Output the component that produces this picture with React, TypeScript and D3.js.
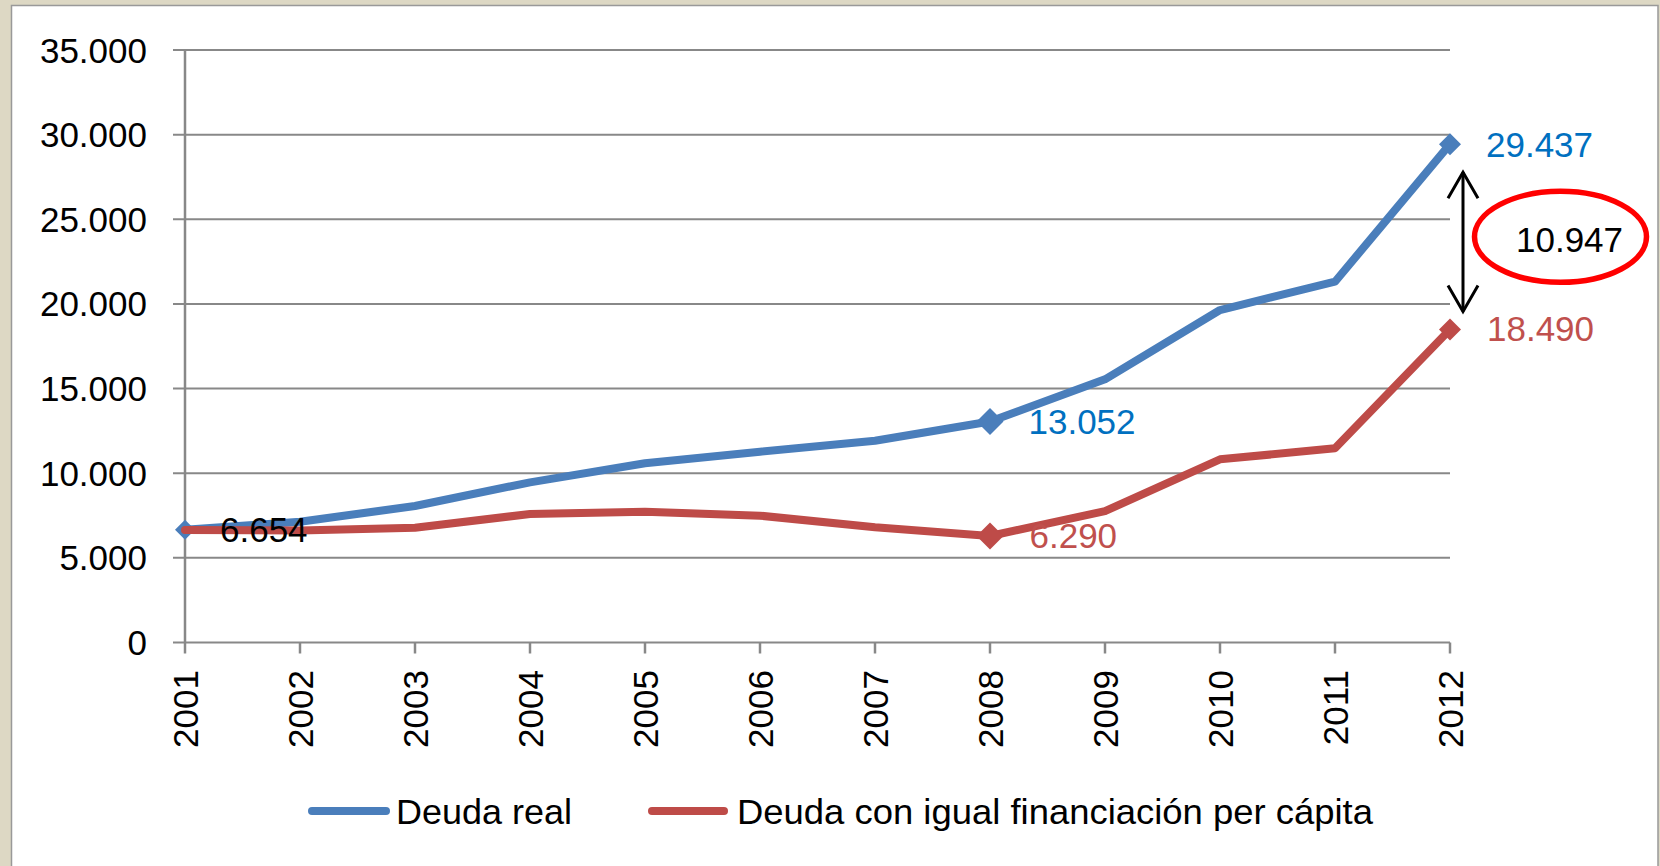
import React from "react";
import * as d3 from "d3";

const years = [2001, 2002, 2003, 2004, 2005, 2006, 2007, 2008, 2009, 2010, 2011, 2012];
const deudaReal = [6654, 7137, 8063, 9462, 10585, 11271, 11921, 13052, 15546, 19640, 21313, 29437];
const deudaIgual = [6640, 6620, 6783, 7590, 7727, 7491, 6803, 6290, 7760, 10820, 11470, 18490];
const yTicks = [0, 5000, 10000, 15000, 20000, 25000, 30000, 35000];
const seriesNames = ["Deuda real", "Deuda con igual financiación per cápita"];
// indices of points with markers / labels
const realMarked = [0, 7, 11];
const igualMarked = [7, 11];
const diffValue = 10947;

const W = 1660;
const H = 866;
const BLUE = "#4A7EBB";
const RED = "#BE4B48";
const LBL_BLUE = "#0070C0";
const LBL_RED = "#C0504D";
const GRID = "#888888";
const FONT = "'Liberation Sans', Arial, sans-serif";
const FS = 35;

const fmt = (v: number) => d3.format(",")(v).replace(/,/g, ".");

export default function App() {
  const x = d3.scalePoint<number>().domain(years).range([185, 1450]);
  const y = d3.scaleLinear().domain([0, 35000]).range([642.5, 50]);
  const line = d3
    .line<number>()
    .x((_, i) => x(years[i]) as number)
    .y((d) => y(d));

  const markerSize = (i: number) => (i === 7 ? 27 : i === 0 ? 20 : 22);
  const diamond = (cx: number, cy: number, w: number) => {
    const h = w / 2;
    return `M${cx},${cy - h}L${cx + h},${cy}L${cx},${cy + h}L${cx - h},${cy}Z`;
  };

  const x12 = x(2012) as number;
  const yTop = y(deudaReal[11]);
  const yBot = y(deudaIgual[11]);
  const ax = x12 + 13;
  const a1 = yTop + 28;
  const a2 = yBot - 18;
  const midY = (yTop + yBot) / 2;

  return (
    <svg
      width={W}
      height={H}
      style={{ position: "absolute", left: 0, top: 0 }}
      fontFamily={FONT}
    >
      <rect x={0} y={0} width={W} height={H} fill="#DDD8C4" />
      <rect x={11.5} y={5.5} width={1646.5} height={H + 20} fill="#FFFFFF" stroke="#999999" strokeWidth={1.5} />

      {/* gridlines */}
      {yTicks.map((t) => (
        <line key={t} x1={173} x2={1450} y1={y(t)} y2={y(t)} stroke={GRID} strokeWidth={2} />
      ))}
      {/* y axis */}
      <line x1={185} x2={185} y1={y(35000)} y2={y(0)} stroke={GRID} strokeWidth={2.5} />
      {yTicks.map((t) => (
        <text key={t} x={147} y={y(t) + 12.5} fontSize={FS} textAnchor="end" fill="#000">
          {fmt(t)}
        </text>
      ))}
      {/* x ticks */}
      {years.map((yr) => (
        <line key={yr} x1={x(yr)} x2={x(yr)} y1={y(0)} y2={y(0) + 11} stroke={GRID} strokeWidth={2.5} />
      ))}
      {years.map((yr) => (
        <text
          key={yr}
          transform={`translate(${(x(yr) as number) + 13},670) rotate(-90)`}
          fontSize={FS}
          textAnchor="end"
          fill="#000"
        >
          {yr}
        </text>
      ))}

      {/* series lines */}
      <path d={line(deudaReal) || ""} fill="none" stroke={BLUE} strokeWidth={8} strokeLinejoin="round" strokeLinecap="round" />
      {realMarked.map((i) => (
        <path key={i} d={diamond(x(years[i]) as number, y(deudaReal[i]), markerSize(i))} fill={BLUE} />
      ))}
      <path d={line(deudaIgual) || ""} fill="none" stroke={RED} strokeWidth={8} strokeLinejoin="round" strokeLinecap="round" />
      {igualMarked.map((i) => (
        <path key={i} d={diamond(x(years[i]) as number, y(deudaIgual[i]), markerSize(i))} fill={RED} />
      ))}

      {/* data labels */}
      {realMarked.map((i) => (
        <text
          key={i}
          x={(x(years[i]) as number) + markerSize(i) / 2 + 25}
          y={y(deudaReal[i]) + 12.5}
          fontSize={FS}
          fill={i === 0 ? "#000" : LBL_BLUE}
        >
          {fmt(deudaReal[i])}
        </text>
      ))}
      {igualMarked.map((i) => (
        <text
          key={i}
          x={(x(years[i]) as number) + markerSize(i) / 2 + 26}
          y={y(deudaIgual[i]) + 11.5}
          fontSize={FS}
          fill={LBL_RED}
        >
          {fmt(deudaIgual[i])}
        </text>
      ))}

      {/* difference annotation */}
      <line x1={ax} x2={ax} y1={a1} y2={a2} stroke="#000" strokeWidth={3} />
      <path d={`M${ax - 15},${a1 + 26}L${ax},${a1}L${ax + 15},${a1 + 26}`} fill="none" stroke="#000" strokeWidth={3} />
      <path d={`M${ax - 15},${a2 - 26}L${ax},${a2}L${ax + 15},${a2 - 26}`} fill="none" stroke="#000" strokeWidth={3} />
      <ellipse cx={1560.5} cy={midY} rx={86} ry={45.5} fill="none" stroke="#FF0000" strokeWidth={5.5} />
      <text x={1516} y={midY + 15} fontSize={FS} fill="#000">
        {fmt(diffValue)}
      </text>

      {/* legend */}
      <line x1={312} x2={386} y1={811} y2={811} stroke={BLUE} strokeWidth={8} strokeLinecap="round" />
      <text x={396} y={823.5} fontSize={FS} fill="#000" textLength={176} lengthAdjust="spacingAndGlyphs">
        {seriesNames[0]}
      </text>
      <line x1={652} x2={724} y1={811} y2={811} stroke={RED} strokeWidth={8} strokeLinecap="round" />
      <text x={737} y={823.5} fontSize={FS} fill="#000" textLength={636} lengthAdjust="spacingAndGlyphs">
        {seriesNames[1]}
      </text>
    </svg>
  );
}
